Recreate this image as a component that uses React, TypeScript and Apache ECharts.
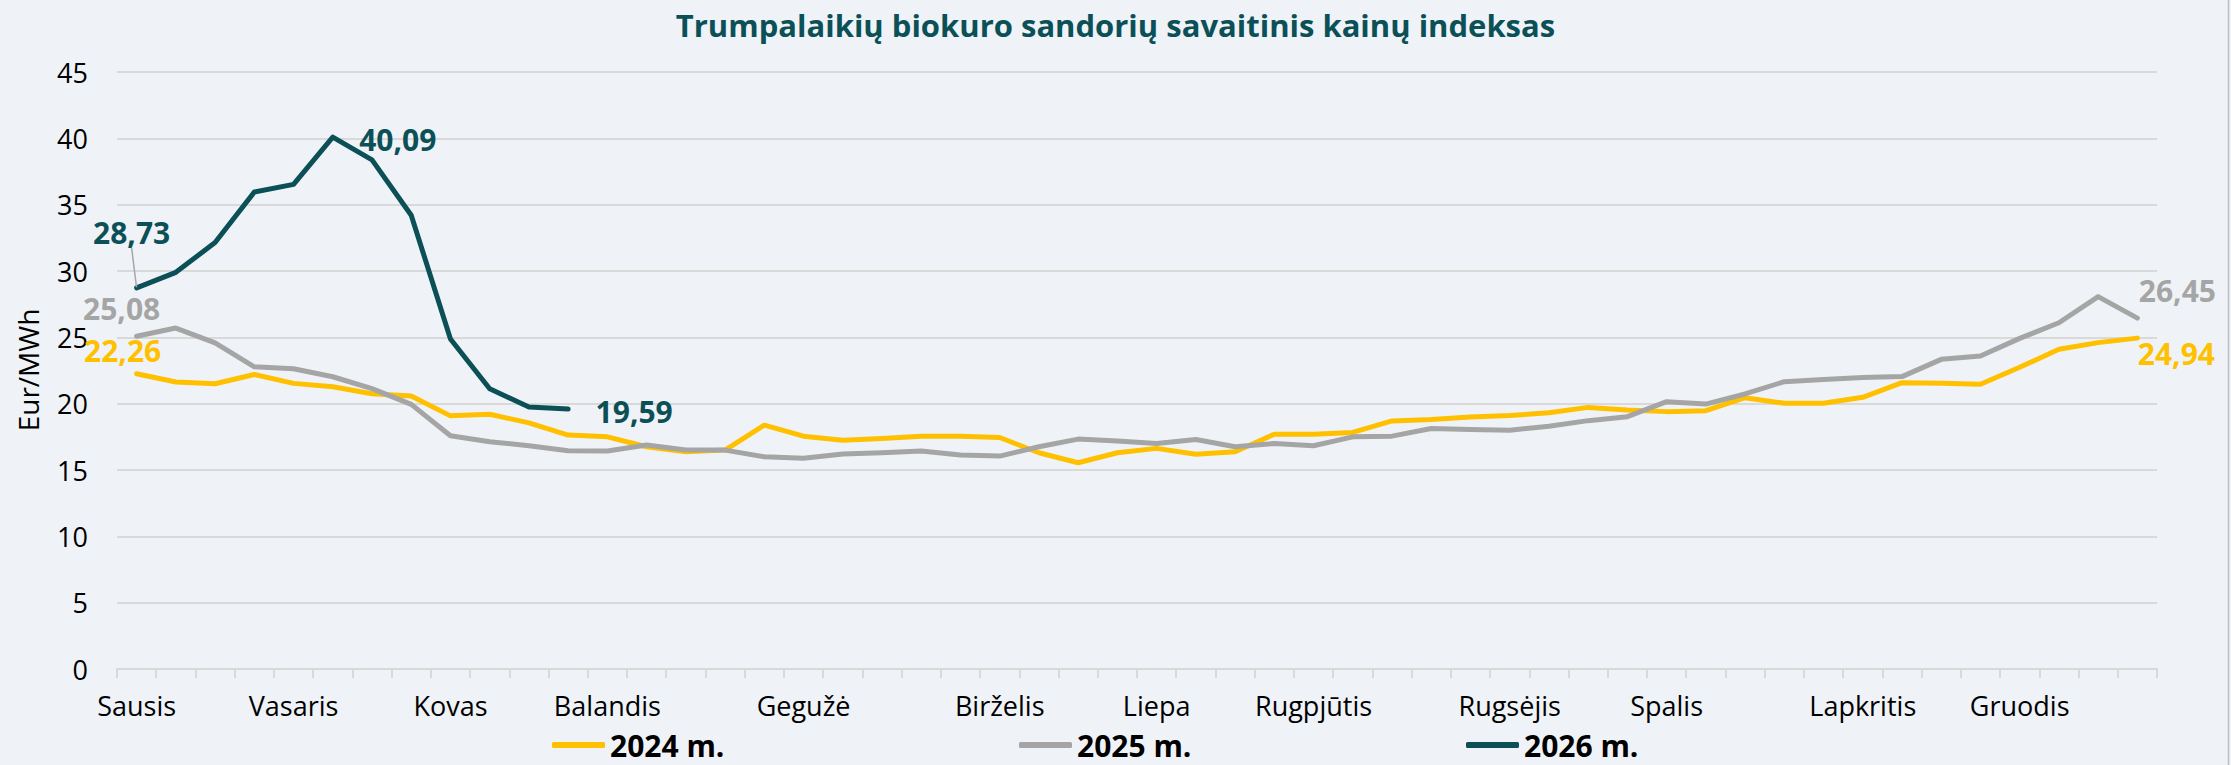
import React, { useEffect, useRef } from "react";
import * as echarts from "echarts";

// ---- data ----
const weekCategories = [
  "1", "2", "3", "4", "5", "6", "7", "8", "9", "10", "11", "12", "13",
  "14", "15", "16", "17", "18", "19", "20", "21", "22", "23", "24", "25", "26",
  "27", "28", "29", "30", "31", "32", "33", "34", "35", "36", "37", "38", "39",
  "40", "41", "42", "43", "44", "45", "46", "47", "48", "49", "50", "51", "52",
];
const monthNames = [
  "Sausis", "Vasaris", "Kovas", "Balandis", "Gegužė", "Birželis",
  "Liepa", "Rugpjūtis", "Rugsėjis", "Spalis", "Lapkritis", "Gruodis",
];
const monthStartWeek = [0, 4, 8, 12, 17, 22, 26, 30, 35, 39, 44, 48];

const y2024 = [
  22.26, 21.63, 21.5, 22.2, 21.53, 21.28, 20.75, 20.58, 19.08, 19.2,
  18.55, 17.63, 17.5, 16.75, 16.38, 16.5, 18.38, 17.55, 17.25, 17.38,
  17.55, 17.55, 17.45, 16.3, 15.55, 16.3, 16.63, 16.18, 16.38, 17.7,
  17.7, 17.83, 18.7, 18.8, 19.0, 19.1, 19.32, 19.72, 19.52, 19.4,
  19.47, 20.45, 20.03, 20.03, 20.48, 21.58, 21.53, 21.46, 22.74, 24.1,
  24.6, 24.94,
];
const y2025 = [
  25.08, 25.7, 24.58, 22.78, 22.63, 22.03, 21.13, 19.95, 17.58, 17.13,
  16.83, 16.45, 16.43, 16.88, 16.5, 16.5, 16.0, 15.88, 16.2, 16.3,
  16.43, 16.13, 16.05, 16.75, 17.33, 17.18, 17.0, 17.3, 16.75, 17.0,
  16.83, 17.5, 17.55, 18.13, 18.05, 18.0, 18.3, 18.72, 19.02, 20.15,
  19.97, 20.73, 21.66, 21.83, 21.98, 22.04, 23.34, 23.59, 24.92, 26.1,
  28.07, 26.45,
];
const y2026 = [
  28.73, 29.9, 32.15, 35.95, 36.53, 40.09, 38.38, 34.2, 24.88, 21.13,
  19.75, 19.59,
];
const seriesNames = ["2024 m.", "2025 m.", "2026 m."];
const yMin = 0;
const yMax = 45;
const yStep = 5;

// ---- styles ----
const FONT = "'Open Sans', sans-serif";
const C2024 = "#FFC000";
const C2025 = "#A5A5A5";
const C2026 = "#0C5057";
const GRID = "#D9D9D9";
const BG = "#EFF3F7";

const fmt = (v: number) => v.toFixed(2).replace(".", ",");

// label shifts (pixels) relative to the point, per data index
type Shift = Record<number, [number, number]>;
const shift2024: Shift = { 0: [-14, -23], 51: [39, 15] };
const shift2025: Shift = { 0: [-15, -28], 51: [40, -28] };
const shift2026: Shift = { 0: [-5, -55], 5: [65, 2], 11: [66, 2] };

function withLabels(values: number[], color: string, shifts: Shift, guided: number[] = []) {
  return values.map((v, i) => {
    if (shifts[i] === undefined) return v;
    const item: any = {
      value: v,
      label: {
        show: true,
        position: "inside",
        formatter: () => fmt(v),
        color,
        fontFamily: FONT,
        fontWeight: "bold",
        fontSize: 30,
        lineHeight: 30,
      },
    };
    if (guided.includes(i)) {
      item.labelLine = {
        show: true,
        lineStyle: { color: "#A6A6A6", width: 1.5 },
      };
    }
    return item;
  });
}

function lineSeries(name: string, data: any[], color: string, shifts: Shift) {
  return {
    name,
    type: "line",
    data,
    symbol: "circle",
    symbolSize: 1,
    showSymbol: true,
    showAllSymbol: true,
    itemStyle: { color },
    lineStyle: { color, width: 5, cap: "round", join: "round" },
    label: { show: false },
    emphasis: { disabled: true },
    labelLayout: (p: any) => {
      const s = shifts[p.dataIndex];
      return s ? { dx: s[0], dy: s[1] } : {};
    },
  };
}

function buildOption(): any {
  const legendCommon = {
    orient: "horizontal",
    top: 730,
    padding: 0,
    itemWidth: 53,
    itemHeight: 6,
    itemGap: 6,
    icon: "roundRect",
    selectedMode: false,
    textStyle: {
      fontFamily: FONT,
      fontWeight: "bold",
      fontSize: 30,
      lineHeight: 28,
      color: "#000",
    },
  };
  return {
    animation: false,
    backgroundColor: BG,
    title: {
      text: "Trumpalaikių biokuro sandorių savaitinis kainų indeksas",
      left: "center",
      top: 4,
      textStyle: {
        fontFamily: FONT,
        fontWeight: "bold",
        fontSize: 31,
        color: C2026,
      },
    },
    legend: [
      { ...legendCommon, left: 552, data: [seriesNames[0]] },
      { ...legendCommon, left: 1019, data: [seriesNames[1]] },
      { ...legendCommon, left: 1466, data: [seriesNames[2]] },
    ],
    grid: { left: 117, right: 74, top: 72, bottom: 96, containLabel: false },
    xAxis: {
      type: "category",
      data: weekCategories,
      boundaryGap: true,
      axisLine: { show: true, lineStyle: { color: GRID, width: 2 } },
      axisTick: {
        show: true,
        interval: 0,
        length: 9,
        lineStyle: { color: GRID, width: 2 },
      },
      axisLabel: {
        interval: 0,
        margin: 23,
        fontFamily: FONT,
        fontSize: 27,
        color: "#000",
        formatter: (_v: string, idx: number) => {
          const k = monthStartWeek.indexOf(idx);
          return k >= 0 ? monthNames[k] : "";
        },
      },
      splitLine: { show: false },
    },
    yAxis: {
      type: "value",
      min: yMin,
      max: yMax,
      interval: yStep,
      axisLine: { show: false },
      axisTick: { show: false },
      axisLabel: {
        margin: 29,
        fontFamily: FONT,
        fontSize: 27,
        color: "#000",
      },
      splitLine: { show: true, lineStyle: { color: GRID, width: 2 } },
    },
    graphic: [
      {
        type: "line",
        shape: { x1: 2228.5, y1: 0, x2: 2228.5, y2: 765 },
        style: { stroke: "#BFBFBF", lineWidth: 1.5 },
        silent: true,
      },
      {
        type: "text",
        x: 28,
        y: 370,
        rotation: Math.PI / 2,
        style: {
          text: "Eur/MWh",
          fontFamily: FONT,
          fontSize: 28,
          fill: "#000",
          align: "center",
          verticalAlign: "middle",
        },
        silent: true,
      },
    ],
    series: [
      lineSeries(seriesNames[0], withLabels(y2024, C2024, shift2024), C2024, shift2024),
      lineSeries(seriesNames[1], withLabels(y2025, C2025, shift2025), C2025, shift2025),
      lineSeries(seriesNames[2], withLabels(y2026, C2026, shift2026, [0]), C2026, shift2026),
    ],
  };
}

export default function App() {
  const ref = useRef<HTMLDivElement>(null);
  useEffect(() => {
    document.body.style.margin = "0";
    const chart = echarts.init(ref.current!, null, { renderer: "svg" });
    chart.setOption(buildOption());
    return () => chart.dispose();
  }, []);
  return (
    <div
      ref={ref}
      style={{ position: "absolute", left: 0, top: 0, width: 2231, height: 765 }}
    />
  );
}
